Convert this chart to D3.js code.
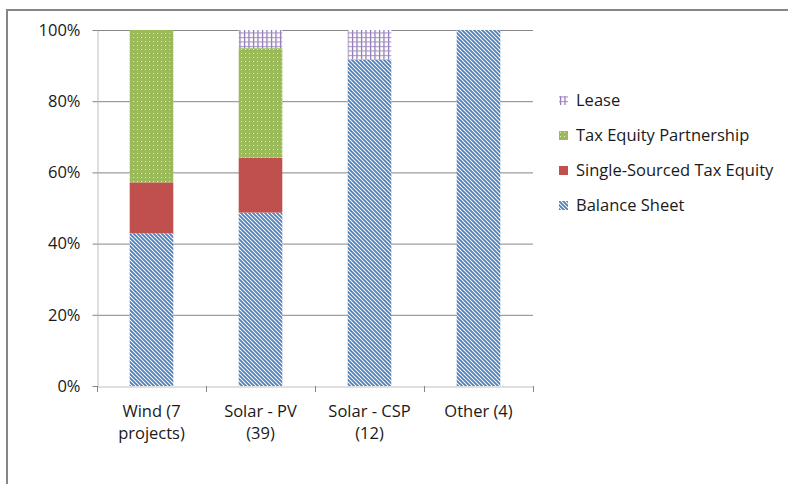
<!DOCTYPE html>
<html><head><meta charset="utf-8">
<script src="https://cdn.jsdelivr.net/npm/d3@7"></script>
<style>body{margin:0;background:#fff}svg{display:block}</style>
</head><body>
<svg id="c" width="788" height="484"></svg>
<script>
const categories = [["Wind (7", "projects)"], ["Solar - PV", "(39)"], ["Solar - CSP", "(12)"], ["Other (4)"]];
const seriesNames = ["Balance Sheet", "Single-Sourced Tax Equity", "Tax Equity Partnership", "Lease"];
const balanceSheet = [42.9, 48.7, 91.7, 100];
const singleSourced = [14.3, 15.4, 0, 0];
const taxEquityPartnership = [42.8, 30.8, 0, 0];
const lease = [0, 5.1, 8.3, 0];
const yTicks = [0, 20, 40, 60, 80, 100];

const svg = d3.select("#c");
const font = "'Open Sans', Lato, sans-serif";
const fs = 16.5;
const defs = svg.append("defs");

// patterns
const pBS = defs.append("pattern").attr("id","pBS").attr("patternUnits","userSpaceOnUse").attr("width",4).attr("height",4);
pBS.append("rect").attr("width",4).attr("height",4).attr("fill","#fff");
pBS.append("path").attr("d","M-1,-1L5,5M-1,3L1,5M3,-1L5,1").attr("stroke","#4f81bd").attr("stroke-width",1.9);
const pTE = defs.append("pattern").attr("id","pTE").attr("patternUnits","userSpaceOnUse").attr("width",4).attr("height",4);
pTE.append("rect").attr("width",4).attr("height",4).attr("fill","#9bbb59");
pTE.append("rect").attr("x",1).attr("y",1).attr("width",1).attr("height",1).attr("fill","#dfe9c8");
const pL = defs.append("pattern").attr("id","pL").attr("patternUnits","userSpaceOnUse").attr("width",4.5).attr("height",4.5);
pL.append("rect").attr("width",4.5).attr("height",4.5).attr("fill","#fff");
pL.append("path").attr("d","M1.5,0V4.5").attr("stroke","#7f63a8").attr("stroke-width",1.1);
pL.append("path").attr("d","M0,1.5H4.5").attr("stroke","#9e89bf").attr("stroke-width",1);
const fills = ["url(#pBS)", "#c0504d", "url(#pTE)", "url(#pL)"];

// outer frame
svg.append("path").attr("d","M7,490V10H795").attr("fill","none").attr("stroke","#868686").attr("stroke-width",2);

const m = {l:97, r:533, t:30, b:386};
const x = d3.scaleBand().domain(d3.range(categories.length)).range([m.l, m.r]).paddingInner(0.6).paddingOuter(0.3);
const xb = d3.scaleBand().domain(d3.range(categories.length)).range([m.l, m.r]);
const y = d3.scaleLinear().domain([0,100]).range([m.b, m.t]);

// gridlines
svg.append("g").selectAll("line").data(yTicks.filter(d=>d>0)).join("line")
  .attr("x1",m.l).attr("x2",m.r).attr("y1",d=>y(d)+0.5).attr("y2",d=>y(d)+0.5)
  .attr("stroke","#868686").attr("stroke-width",1);

// stacked data
const table = categories.map((c,i)=>({i, "Balance Sheet":balanceSheet[i], "Single-Sourced Tax Equity":singleSourced[i], "Tax Equity Partnership":taxEquityPartnership[i], "Lease":lease[i]}));
const stacked = d3.stack().keys(seriesNames)(table);
svg.append("g").selectAll("g").data(stacked).join("g").attr("fill",(d,k)=>fills[k])
  .selectAll("rect").data(d=>d).join("rect")
  .attr("x",d=>x(d.data.i)).attr("width",x.bandwidth())
  .attr("y",d=>y(d[1])).attr("height",d=>y(d[0])-y(d[1]));

// y axis
const ya = svg.append("g").attr("transform",`translate(${m.l+0.5},0)`)
  .call(d3.axisLeft(y).tickValues(yTicks).tickFormat(d=>d+"%").tickSize(5).tickSizeOuter(0));
ya.select(".domain").attr("stroke","#bfbfbf");
ya.selectAll(".tick line").attr("stroke","#868686");
ya.selectAll(".tick text").attr("font-family",font).attr("font-size",fs).attr("fill","#1a1a1a").attr("dx",-9);

// x axis
const xa = svg.append("g").attr("transform",`translate(0,${m.b+0.5})`)
  .call(d3.axisBottom(xb).tickValues([]).tickSize(0).tickSizeOuter(0));
xa.select(".domain").attr("stroke","#bfbfbf");
svg.append("g").selectAll("line").data(d3.range(categories.length+1)).join("line")
  .attr("x1",d=>(d<categories.length?xb(d):m.r)+0.5).attr("x2",d=>(d<categories.length?xb(d):m.r)+0.5)
  .attr("y1",m.b).attr("y2",m.b+6).attr("stroke","#868686");
const lab = svg.append("g").selectAll("text").data(categories).join("text")
  .attr("x",(d,i)=>xb(i)+xb.bandwidth()/2).attr("y",417)
  .attr("text-anchor","middle").attr("font-family",font).attr("font-size",fs).attr("fill","#1a1a1a");
lab.selectAll("tspan").data(d=>d).join("tspan").attr("x",function(){return this.parentNode.getAttribute("x");})
  .attr("dy",(d,j)=>j?22:0).text(d=>d);

// legend
const legendOrder = [3,2,1,0];
const lg = svg.append("g").selectAll("g").data(legendOrder).join("g")
  .attr("transform",(d,j)=>`translate(559,${100+j*35})`);
lg.append("rect").attr("x",0).attr("y",-4).attr("width",9).attr("height",9).attr("fill",d=>fills[d]);
lg.append("text").attr("x",17).attr("y",6).attr("font-family",font).attr("font-size",fs).attr("fill","#1a1a1a").text(d=>seriesNames[d]);
</script>
</body></html>
